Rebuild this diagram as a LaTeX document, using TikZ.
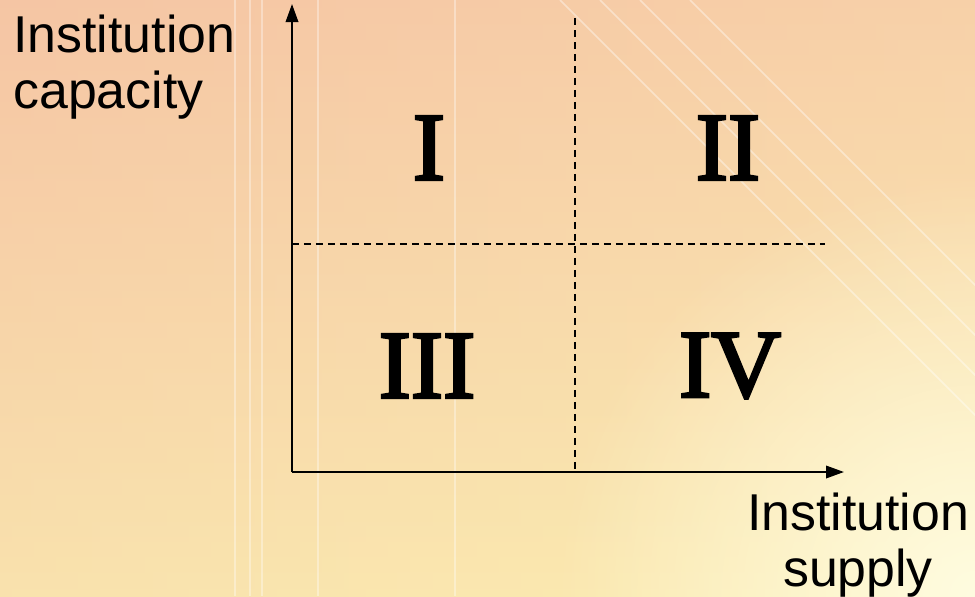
\documentclass[tikz,border=0pt]{standalone}
\usepackage{fontspec}
\setmainfont{Liberation Sans}
\newfontfamily\numfont{Liberation Serif}[FakeBold=3]
\usetikzlibrary{arrows.meta, fadings}
\definecolor{bgpink}{HTML}{F2B2A0}
\definecolor{bgpeach}{HTML}{F9DEB0}
\definecolor{bgorange}{HTML}{F7CCA6}
\definecolor{bgyellow}{HTML}{FCF2B2}
\definecolor{bgglow}{HTML}{FFFCE0}
\tikzfading[name=glowfade, inner color=transparent!0, outer color=transparent!100]
\begin{document}
\begin{tikzpicture}[x=0.02cm, y=-0.02cm,
    axis/.style={line width=1.1pt, -{Triangle[length=0.36cm, width=0.25cm]}},
    divider/.style={line width=0.8pt, dash pattern=on 0.14cm off 0.1cm},
    axislabel/.style={inner sep=0pt, font=\fontsize{29.5}{31.5}\selectfont},
    quadlabel/.style={inner sep=0pt, font=\fontsize{55}{60}\selectfont\numfont}]
    % background
    \useasboundingbox (0,0) rectangle (975,596);
    \shade[left color=bgpink, right color=bgpeach] (0,0) rectangle (975,596);
    \shade[top color=bgorange, bottom color=bgyellow, opacity=0.75] (0,0) rectangle (975,596);
    \fill[bgglow, path fading=glowfade] (975,596) circle (420);
    \foreach \x in {235,250,262,318,455} \draw[white, opacity=0.35, line width=1.2pt] (\x,0) -- (\x,596);
    \foreach \x in {560,600,640,690} \draw[white, opacity=0.4, line width=1pt] (\x,0) -- (\x+420,420);
    % axes and dividers
    \coordinate (O) at (292,472);
    \coordinate (ytip) at (292,4);
    \coordinate (xtip) at (844,472);
    \coordinate (vtop) at (575,18);
    \coordinate (vbot) at (575,472);
    \coordinate (hleft) at (292,244);
    \coordinate (hright) at (825,244);
    \draw[divider] (vtop) -- (vbot);
    \draw[divider] (hleft) -- (hright);
    \draw[axis] (O) -- (ytip);
    \draw[axis] (O) -- (xtip);
    % labels
    \node[axislabel, anchor=north west, align=left] (capacity) at (13,15) {Institution\\capacity};
    \node[axislabel, align=center] (supply) at (858,545) {Institution\\supply};
    \node[quadlabel] (q1) at (429,148) {I};
    \node[quadlabel] (q2) at (728,148) {II};
    \node[quadlabel] (q3) at (427,366) {III};
    \node[quadlabel] (q4) at (730,366) {IV};
\end{tikzpicture}
\end{document}
